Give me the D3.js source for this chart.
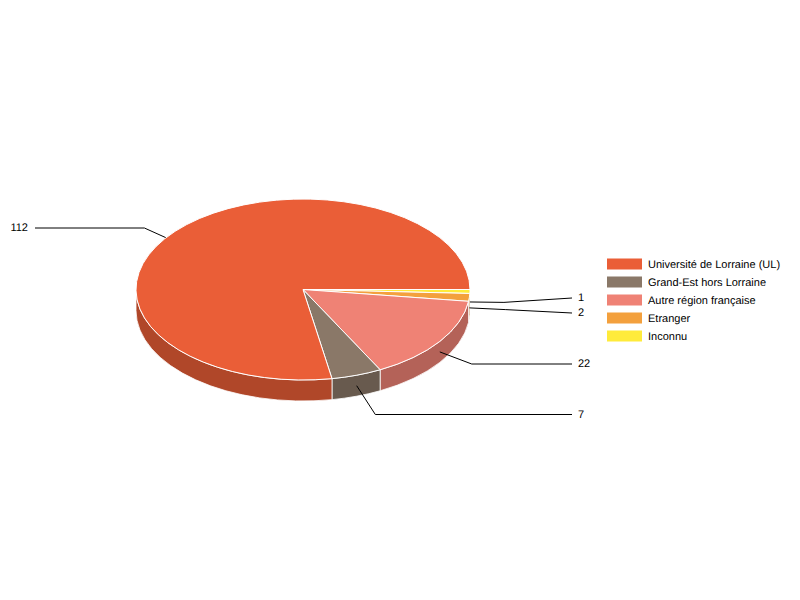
<!DOCTYPE html>
<html>
<head>
<meta charset="utf-8">
<script src="https://cdnjs.cloudflare.com/ajax/libs/d3/7.8.5/d3.min.js"></script>
<style>
html, body { margin: 0; padding: 0; background: #fff; }
svg { display: block; }
text { font-family: "Liberation Sans", Arial, sans-serif; font-size: 11px; fill: #000; text-rendering: geometricPrecision; }
</style>
</head>
<body>
<div id="chart"></div>
<script>
// slices, clockwise from 3 o'clock
var categories = ["Inconnu", "Etranger", "Autre région française", "Grand-Est hors Lorraine", "Université de Lorraine (UL)"];
var values = [1, 2, 22, 7, 112];
var colors = ["#FFEB3B", "#F3A03D", "#EF8275", "#8A7868", "#EA5E37"];

// legend reads the other way round
var legend_order = ["Université de Lorraine (UL)", "Grand-Est hors Lorraine", "Autre région française", "Etranger", "Inconnu"];

var width = 800;
var height = 600;
var cx = 303;          // pie centre
var cy = 289.5;
var rx = 167;          // ellipse radii
var ry = 90.5;
var depth = 21;        // height of the pie wall
var ratio = ry / rx;

// leader lines: how far the elbow sits out from the rim, and the y of the label
var elbow_out = [34, 36, 39, 58, 40];
var label_y = [298, 313, 364, 414.5, 228];

var svg = d3.select("#chart").append("svg")
    .attr("width", width)
    .attr("height", height);

// 0 = east, going clockwise, so d3's 12 o'clock origin is shifted a quarter turn
var pie = d3.pie().sort(null).startAngle(Math.PI / 2).endAngle(Math.PI / 2 + 2 * Math.PI);
var slices = pie(values);
slices.forEach(function (s, i) {
    s.name = categories[i];
    s.color = colors[i];
    s.a0 = s.startAngle - Math.PI / 2;
    s.a1 = s.endAngle - Math.PI / 2;
    s.mid = (s.a0 + s.a1) / 2;
});

// wall, only the front half of the rim (0..PI) is visible
function wall_path(a0, a1) {
    var x0 = cx + rx * Math.cos(a0), y0 = cy + ry * Math.sin(a0);
    var x1 = cx + rx * Math.cos(a1), y1 = cy + ry * Math.sin(a1);
    return "M" + x0 + "," + y0 +
        "A" + rx + "," + ry + " 0 0 1 " + x1 + "," + y1 +
        "L" + x1 + "," + (y1 + depth) +
        "A" + rx + "," + ry + " 0 0 0 " + x0 + "," + (y0 + depth) + "Z";
}

var walls = svg.append("g").attr("class", "walls");
slices.forEach(function (s) {
    var a0 = Math.max(s.a0, 0);
    var a1 = Math.min(s.a1, Math.PI);
    if (a1 <= a0) return;
    walls.append("path")
        .attr("d", wall_path(a0, a1))
        .attr("fill", d3.color(s.color).darker(0.8))
        .attr("stroke", "#fff")
        .attr("stroke-opacity", 0.8)
        .attr("stroke-width", 1);
});

// leaders sit on the walls but under the top face, which hides the start of the 112 one
var line = d3.line();
var leaders = svg.append("g").attr("class", "leaders");
slices.forEach(function (s, i) {
    var sx = cx + rx * Math.cos(s.mid);
    var sy = cy + ry * Math.sin(s.mid) + depth / 2;
    var dir = Math.cos(s.mid) >= 0 ? 1 : -1;
    var ex = sx + elbow_out[i] * Math.cos(s.mid);
    var ey = sy + elbow_out[i] * Math.sin(s.mid) * ratio;
    if (Math.abs(ey - label_y[i]) < 2) ey = label_y[i];   // flat run out to the label
    var lx = dir > 0 ? 572 : 35;
    leaders.append("path")
        .attr("d", line([[sx, sy], [ex, ey], [lx, label_y[i]]]))
        .attr("fill", "none")
        .attr("stroke", "#000")
        .attr("stroke-width", 1);
    leaders.append("text")
        .attr("x", dir > 0 ? 578 : 28)
        .attr("y", Math.round(label_y[i]) + 3)
        .attr("text-anchor", dir > 0 ? "start" : "end")
        .text(values[i]);
});

// top face: a circular d3 arc squashed into the ellipse
var arc = d3.arc().innerRadius(0).outerRadius(rx);
svg.append("g")
    .attr("class", "top")
    .attr("transform", "translate(" + cx + "," + cy + ") scale(1," + ratio + ")")
    .selectAll("path")
    .data(slices)
    .enter().append("path")
    .attr("d", arc)
    .attr("fill", function (d) { return d.color; })
    .attr("stroke", "#fff")
    .attr("stroke-width", 1)
    .attr("vector-effect", "non-scaling-stroke");

// legend
var legend_y = d3.scalePoint().domain(legend_order).range([264, 336]);
var legend = svg.append("g").attr("class", "legend");
legend_order.forEach(function (name) {
    var c = colors[categories.indexOf(name)];
    legend.append("rect")
        .attr("x", 607)
        .attr("y", legend_y(name) - 5.5)
        .attr("width", 35)
        .attr("height", 11)
        .attr("fill", c);
    legend.append("text")
        .attr("x", 648)
        .attr("y", legend_y(name) + 4)
        .text(name);
});
</script>
</body>
</html>
